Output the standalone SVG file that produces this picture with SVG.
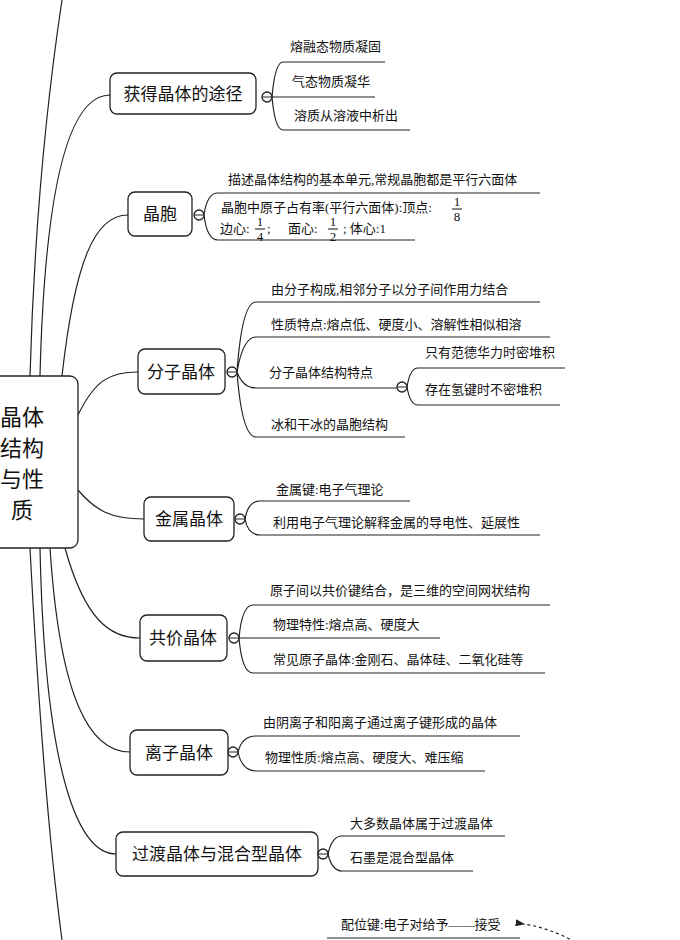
<svg xmlns="http://www.w3.org/2000/svg" width="680" height="940" viewBox="0 0 680 940">
<defs>
<style>
.bx{fill:#fff;stroke:#222;stroke-width:1.3}
.c{fill:none;stroke:#222;stroke-width:1.2}
.t{font-family:"Liberation Serif","Noto Sans CJK SC",serif;fill:#111}
.n{font-size:17px}
.l{font-size:13px}
.r{font-size:22px}
</style>
<marker id="ah" markerWidth="8" markerHeight="6" refX="1" refY="3" orient="auto"><path d="M8,0 L0,3 L8,6 Z" fill="#222"/></marker>
</defs>
<rect width="680" height="940" fill="#fff"/>
<g id="connectors" class="c">
<path d="M30,376 C35,200 50,80 62,0"/>
<path d="M40,376 C45,180 70,95 110,95"/>
<path d="M62,376 C75,260 95,215 128,215"/>
<path d="M78,415 C95,380 110,372 138,372"/>
<path d="M78,490 C95,510 110,519 144,519"/>
<path d="M65,548 C85,620 110,638 140,638"/>
<path d="M50,548 C60,700 90,752 130,752"/>
<path d="M40,548 C45,780 80,854 116,854"/>
<path d="M30,548 C38,700 50,850 62,940"/>
<path d="M272,97 Q275,62 283,62 L385,62"/><path d="M272,97 L375,97"/><path d="M272,97 Q275,130 283,130 L410,130"/>
<path d="M204,215 Q207,193 218,193 L540,193"/><path d="M204,215 Q207,240 218,240 L415,240"/>
<path d="M237,372 Q242,302 256,302 L540,302"/><path d="M237,372 Q243,337 256,337 L550,337"/>
<path d="M237,372 Q243,388 256,388 L397,388"/><path d="M237,372 Q242,437 256,437 L405,437"/>
<path d="M407,387 Q410,368 418,368 L565,368"/><path d="M407,387 Q410,405 418,405 L560,405"/>
<path d="M245,519 Q248,501 260,501 L410,501"/><path d="M245,519 Q248,535 260,535 L540,535"/>
<path d="M239,638 Q242,605 253,605 L550,605"/><path d="M239,638 L440,638"/><path d="M239,638 Q242,673 253,673 L545,673"/>
<path d="M238,752 Q242,736 256,736 L520,736"/><path d="M238,752 Q242,771 256,771 L485,771"/>
<path d="M328,854 Q332,836 342,836 L505,836"/><path d="M328,854 Q332,871 342,871 L473,871"/>
<path d="M327,938 L520,938"/>
<path d="M575,942 Q550,928 524,924" stroke-dasharray="3,3" marker-end="url(#ah)"/>
</g>
<g id="root"><rect class="bx" x="-10" y="376" width="88" height="172" rx="8"/>
<text class="t r" x="22" y="425" text-anchor="middle">晶体</text><text class="t r" x="22" y="456" text-anchor="middle">结构</text><text class="t r" x="22" y="487" text-anchor="middle">与性</text><text class="t r" x="22" y="518" text-anchor="middle">质</text></g>
<g id="n1"><rect class="bx" x="110" y="73" width="146" height="41" rx="7"/><text class="t n" x="183" y="100" text-anchor="middle">获得晶体的途径</text><circle class="bx" cx="267" cy="97" r="5"/><line x1="262" y1="97" x2="272" y2="97" stroke="#222"/>
<text class="t l" x="290" y="51">熔融态物质凝固</text><text class="t l" x="292" y="86">气态物质凝华</text><text class="t l" x="294" y="120">溶质从溶液中析出</text></g>
<g id="n2"><rect class="bx" x="128" y="192" width="64" height="44" rx="7"/><text class="t n" x="160" y="220" text-anchor="middle">晶胞</text><circle class="bx" cx="199" cy="215" r="5"/><line x1="194" y1="215" x2="204" y2="215" stroke="#222"/>
<text class="t l" x="228" y="184">描述晶体结构的基本单元,常规晶胞都是平行六面体</text>
<text class="t l" x="221" y="212">晶胞中原子占有率(平行六面体):顶点:</text>
<text class="t l" x="457" y="206" text-anchor="middle">1</text><line x1="452" y1="209" x2="462" y2="209" stroke="#111"/><text class="t l" x="457" y="221" text-anchor="middle">8</text>
<text class="t l" x="220" y="233">边心:</text><text class="t l" x="260" y="226" text-anchor="middle">1</text><line x1="255" y1="229" x2="265" y2="229" stroke="#111"/><text class="t l" x="260" y="241" text-anchor="middle">4</text>
<text class="t l" x="267" y="233">;</text><text class="t l" x="288" y="233">面心:</text><text class="t l" x="333" y="226" text-anchor="middle">1</text><line x1="328" y1="229" x2="338" y2="229" stroke="#111"/><text class="t l" x="333" y="241" text-anchor="middle">2</text>
<text class="t l" x="343" y="233">; 体心:1</text></g>
<g id="n3"><rect class="bx" x="138" y="349" width="87" height="45" rx="7"/><text class="t n" x="181" y="378" text-anchor="middle">分子晶体</text><circle class="bx" cx="232" cy="372" r="5"/><line x1="227" y1="372" x2="237" y2="372" stroke="#222"/>
<text class="t l" x="271" y="294">由分子构成,相邻分子以分子间作用力结合</text><text class="t l" x="271" y="329">性质特点:熔点低、硬度小、溶解性相似相溶</text>
<text class="t l" x="269" y="377">分子晶体结构特点</text><circle class="bx" cx="402" cy="387" r="5"/><line x1="397" y1="387" x2="407" y2="387" stroke="#222"/>
<text class="t l" x="425" y="357">只有范德华力时密堆积</text><text class="t l" x="425" y="394">存在氢键时不密堆积</text>
<text class="t l" x="271" y="429">冰和干冰的晶胞结构</text></g>
<g id="n4"><rect class="bx" x="144" y="497" width="90" height="44" rx="7"/><text class="t n" x="189" y="525" text-anchor="middle">金属晶体</text><circle class="bx" cx="240" cy="519" r="5"/><line x1="235" y1="519" x2="245" y2="519" stroke="#222"/>
<text class="t l" x="276" y="494">金属键:电子气理论</text><text class="t l" x="273" y="527">利用电子气理论解释金属的导电性、延展性</text></g>
<g id="n5"><rect class="bx" x="140" y="615" width="87" height="46" rx="7"/><text class="t n" x="183" y="644" text-anchor="middle">共价晶体</text><circle class="bx" cx="234" cy="638" r="5"/><line x1="229" y1="638" x2="239" y2="638" stroke="#222"/>
<text class="t l" x="270" y="595">原子间以共价键结合，是三维的空间网状结构</text><text class="t l" x="273" y="629">物理特性:熔点高、硬度大</text><text class="t l" x="273" y="664">常见原子晶体:金刚石、晶体硅、二氧化硅等</text></g>
<g id="n6"><rect class="bx" x="130" y="730" width="98" height="45" rx="7"/><text class="t n" x="179" y="759" text-anchor="middle">离子晶体</text><circle class="bx" cx="233" cy="752" r="5"/><line x1="228" y1="752" x2="238" y2="752" stroke="#222"/>
<text class="t l" x="263" y="727">由阴离子和阳离子通过离子键形成的晶体</text><text class="t l" x="265" y="762">物理性质:熔点高、硬度大、难压缩</text></g>
<g id="n7"><rect class="bx" x="116" y="832" width="202" height="44" rx="7"/><text class="t n" x="217" y="860" text-anchor="middle">过渡晶体与混合型晶体</text><circle class="bx" cx="323" cy="854" r="5"/><line x1="318" y1="854" x2="328" y2="854" stroke="#222"/>
<text class="t l" x="350" y="828">大多数晶体属于过渡晶体</text><text class="t l" x="350" y="862">石墨是混合型晶体</text></g>
<g id="n8"><text class="t l" x="341" y="929">配位键:电子对给予——接受</text></g>
</svg>
